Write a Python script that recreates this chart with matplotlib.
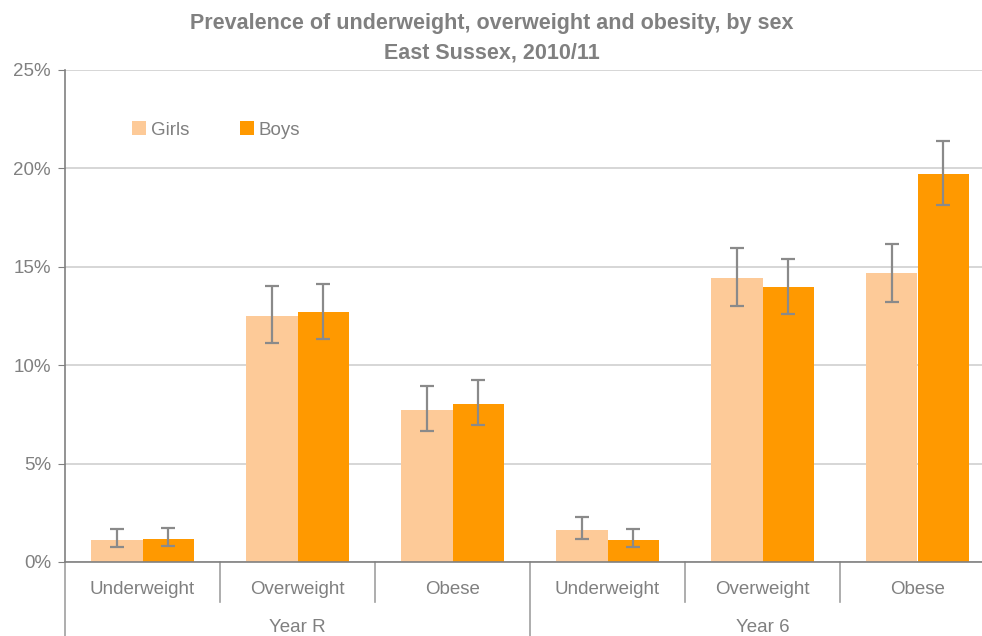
#!/usr/bin/env python3
"""Prevalence of underweight, overweight and obesity, by sex - East Sussex 2010/11"""

import matplotlib
matplotlib.use("Agg")
import matplotlib.pyplot as plt
import matplotlib.transforms as mtransforms
import numpy as np

# data (percent)
groups = ["Year R", "Year 6"]
categories = ["Underweight", "Overweight", "Obese"]
girls = [1.14, 12.5, 7.72, 1.65, 14.41, 14.66]
girls_lo = [0.75, 11.14, 6.67, 1.19, 13.0, 13.22]
girls_hi = [1.67, 14.0, 8.94, 2.28, 15.95, 16.17]
boys = [1.19, 12.7, 8.03, 1.14, 13.95, 19.7]
boys_lo = [0.82, 11.35, 6.98, 0.75, 12.6, 18.13]
boys_hi = [1.75, 14.14, 9.25, 1.67, 15.4, 21.38]
yticks = [0, 5, 10, 15, 20, 25]

GREY = "#808080"
GIRLS_C = "#FDCA98"
BOYS_C = "#FF9900"

plt.rcParams["font.family"] = ["Liberation Sans", "DejaVu Sans"]

fig = plt.figure(figsize=(9.82, 6.36), dpi=100)
ax = fig.add_axes([65 / 982, 74 / 636, 930 / 982, 492 / 636])

x = np.arange(len(girls))
w = 0.335

def errs(vals, lo, hi):
    return [np.array(vals) - np.array(lo), np.array(hi) - np.array(vals)]

ekw = dict(ecolor="#8a8a8a", elinewidth=1.6, capsize=5, capthick=1.6)
ax.bar(x - w / 2, girls, w, color=GIRLS_C, label="Girls", zorder=2,
       yerr=errs(girls, girls_lo, girls_hi), error_kw=ekw)
ax.bar(x + w / 2, boys, w, color=BOYS_C, label="Boys", zorder=2,
       yerr=errs(boys, boys_lo, boys_hi), error_kw=ekw)

ax.set_xlim(-0.5, len(girls) - 0.5)
ax.set_ylim(0, 25)
ax.set_yticks(yticks)
ax.set_yticklabels([f"{t}%" for t in yticks], color=GREY, fontsize=13.5)
ax.yaxis.grid(True, color="#d0d0d0", linewidth=1.2, zorder=0)
ax.set_axisbelow(True)
ax.tick_params(axis="y", length=5, color=GREY, pad=5)
ax.set_xticks([])

for s in ["top", "right"]:
    ax.spines[s].set_visible(False)
for s in ["left", "bottom"]:
    ax.spines[s].set_color(GREY)
    ax.spines[s].set_linewidth(1.2)

# multi-level category axis
trans = mtransforms.blended_transform_factory(ax.transData, ax.transAxes)
px = 1 / 492  # one pixel in axes fraction
for i in x:
    ax.text(i, -27 * px, categories[i % 3], transform=trans, ha="center",
            va="center", color=GREY, fontsize=13.5)
for i in range(len(girls) + 1):
    xs = i - 0.5
    bottom = -80 * px if i % 3 == 0 else -40 * px
    ax.plot([xs, xs], [0, bottom], transform=trans, color="#a0a0a0",
            linewidth=1.2, clip_on=False)
for g, name in enumerate(groups):
    ax.text(g * 3 + 1, -66 * px, name, transform=trans, ha="center",
            va="center", color=GREY, fontsize=13.5)

ax.legend(loc="upper left", bbox_to_anchor=(0.054, 0.93), ncol=2, frameon=False,
          fontsize=13.5, labelcolor=GREY, handlelength=0.75, handleheight=0.75,
          handletextpad=0.25, columnspacing=2.7)

fig.text(492 / 982, 1 - 24 / 636, "Prevalence of underweight, overweight and obesity, by sex",
         ha="center", va="center", fontsize=15.5, fontweight="bold", color=GREY)
fig.text(492 / 982, 1 - 53 / 636, "East Sussex, 2010/11",
         ha="center", va="center", fontsize=15.5, fontweight="bold", color=GREY)

fig.savefig("out.png", dpi=100)
